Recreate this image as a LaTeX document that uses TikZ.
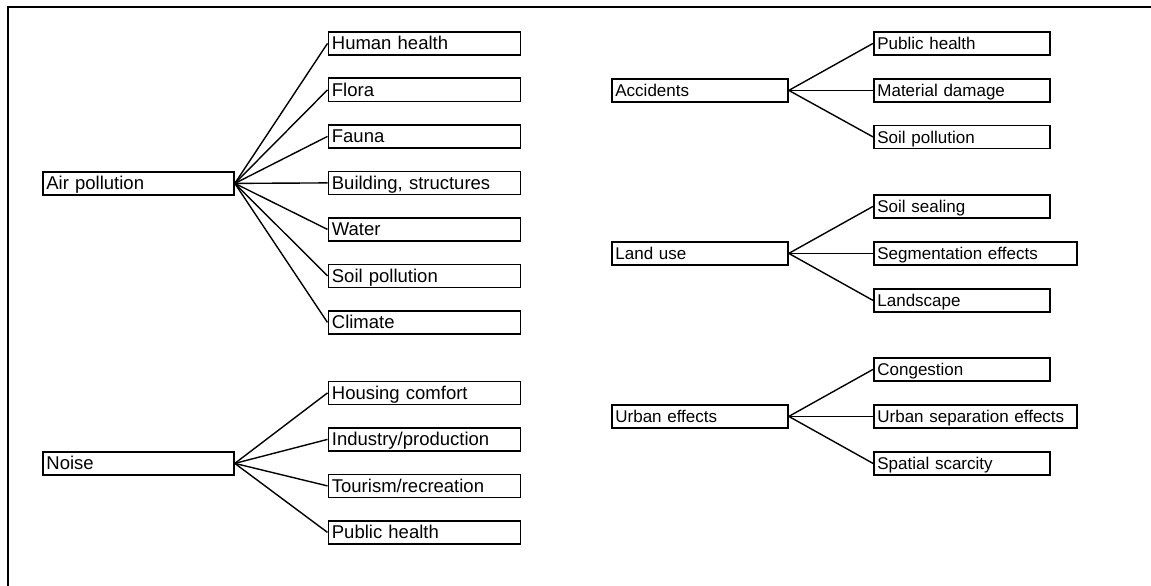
\documentclass[tikz,border=0pt]{standalone}
\usepackage{fontspec}
\setmainfont{Liberation Sans}
\begin{document}
\begin{tikzpicture}[x=1pt,y=-1pt,
  box/.style={draw, line width=1.8pt, anchor=north west, inner xsep=3.5pt, inner ysep=0pt,
    minimum height=23pt, text height=13pt, text depth=0pt, align=left, text width=#1,
    font=\fontsize{18.5}{20}\selectfont},
  rbox/.style={box=#1, font=\fontsize{17}{20}\selectfont},
  link/.style={line width=1.4pt},
  frame/.style={line width=2.2pt}]
\useasboundingbox (0,0) rectangle (1151,586);
\coordinate (fa) at (8,7);
\coordinate (fb) at (1151,7);
\coordinate (fc) at (8,586);
\draw[frame] (fc) -- (fa) -- (fb);

% Air pollution
\node[box=184pt] (ap) at (42,171) {Air pollution};
\node[box=185pt] (hh) at (327.5,31) {Human health};
\node[box=185pt] (fl) at (327.5,77.5) {Flora};
\node[box=185pt] (fn) at (327.5,124) {Fauna};
\node[box=185pt] (bs) at (327.5,170.5) {Building, structures};
\node[box=185pt] (wa) at (327.5,217) {Water};
\node[box=185pt] (sp) at (327.5,263.5) {Soil pollution};
\node[box=185pt] (cl) at (327.5,310) {Climate};
\foreach \c in {hh,fl,fn,bs,wa,sp,cl} \draw[link] (ap.east) -- (\c.west);

% Noise
\node[box=184pt] (no) at (42,451) {Noise};
\node[box=185pt] (hc) at (327.5,380.5) {Housing comfort};
\node[box=185pt] (ip) at (327.5,427) {Industry/production};
\node[box=185pt] (tr) at (327.5,473.5) {Tourism/recreation};
\node[box=185pt] (ph) at (327.5,520) {Public health};
\foreach \c in {hc,ip,tr,ph} \draw[link] (no.east) -- (\c.west);

% Accidents
\node[rbox=169pt] (ac) at (611,78) {Accidents};
\node[rbox=169pt] (ph2) at (873,31) {Public health};
\node[rbox=169pt] (md) at (873,78) {Material damage};
\node[rbox=169pt] (sp2) at (873,124.5) {Soil pollution};
\foreach \c in {ph2,md,sp2} \draw[link] (ac.east) -- (\c.west);

% Land use
\node[rbox=169pt] (lu) at (611,241) {Land use};
\node[rbox=169pt] (ss) at (873,194) {Soil sealing};
\node[rbox=196pt] (se) at (873,241) {Segmentation effects};
\node[rbox=169pt] (ls) at (873,288) {Landscape};
\foreach \c in {ss,se,ls} \draw[link] (lu.east) -- (\c.west);

% Urban effects
\node[rbox=169pt] (ue) at (611,404) {Urban effects};
\node[rbox=169pt] (cg) at (873,357) {Congestion};
\node[rbox=196pt] (us) at (873,404) {Urban separation effects};
\node[rbox=169pt] (sc) at (873,451) {Spatial scarcity};
\foreach \c in {cg,us,sc} \draw[link] (ue.east) -- (\c.west);
\end{tikzpicture}
\end{document}
